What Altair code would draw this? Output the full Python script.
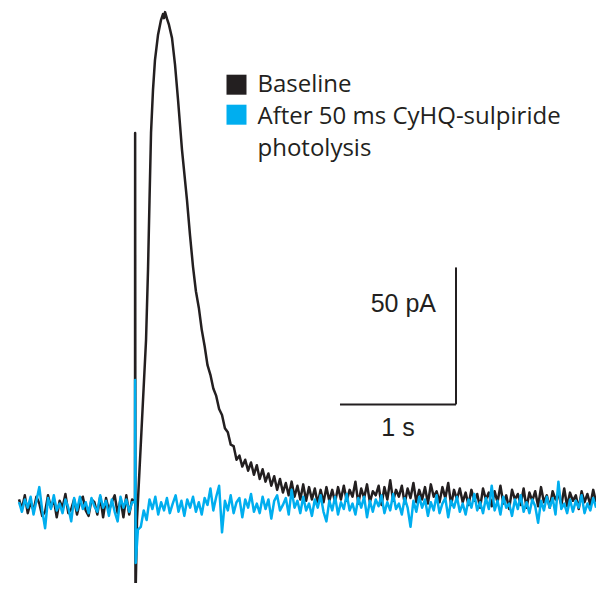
import altair as alt
import pandas as pd

# ---------------- data ----------------
# time in s relative to the photolysis flash, current in pA (inward up)
STEP = 0.025
BASE_NAME = "Baseline"
AFTER_NAME = "After 50 ms CyHQ-sulpiride photolysis"
legend_names = [BASE_NAME, AFTER_NAME]
legend_texts = ["Baseline", "After 50 ms CyHQ-sulpiride\nphotolysis"]

baseline_pre_start = -1.0
baseline_pre = [2.0, -1.5, 3.5, -3.0, 1.0, -2.0, 3.0, 0.5, -4.0, -2.5,
                3.5, -1.0, 2.0, -4.5, 1.5, -1.0, 4.0, -3.0, -1.5, 2.0,
                -3.5, 1.0, 3.0, -2.0, -4.0, 2.0, 1.0, -3.5, 3.0, -4.5,
                2.5, -2.0, 1.0, 3.5, -3.0, 2.0, -4.5, 3.5, -3.5, 2.0]

baseline_flash_t = [0.0, 0.001, 0.004, 0.017, 0.043, 0.069, 0.095, 0.112, 0.125,
                    0.138, 0.155, 0.172, 0.198, 0.224, 0.241, 0.25, 0.259, 0.276,
                    0.293, 0.319, 0.345, 0.371, 0.405, 0.448, 0.474, 0.5]
baseline_flash_i = [1.0, 135.8, -35.0, -5.5, 16.4, 38.3, 60.2, 85.8, 111.3,
                    135.8, 151.5, 162.4, 171.5, 177.0, 179.2, 177.7, 179.9, 177.4,
                    175.2, 170.4, 160.6, 147.8, 129.6, 111.3, 98.5, 86.9]

baseline_decay_start = 0.525
baseline_decay = [78.0, 72.0, 64.0, 58.0, 51.0, 47.5, 42.5, 39.8, 35.0, 32.8,
                  28.0, 26.5, 22.0, 21.5, 16.5, 18.0, 14.0, 16.5, 12.5, 15.5,
                  11.0, 14.5, 9.5, 13.0, 8.5, 11.5, 7.0, 10.5, 5.5, 9.5,
                  4.5, 8.0, 3.5, 8.5, 3.0, 7.0, 2.0, 7.5, 1.5, 6.5,
                  2.0, 6.0, 0.5, 5.5, 1.0, 6.5, 1.5, 5.5]

baseline_tail_start = 1.725
baseline_tail = [1.0, 6.5, 2.0, 7.0, 1.5, 5.5, 3.0, 8.5, 0.5, 6.0,
                 2.5, 7.5, 1.0, 5.0, 3.5, 7.0, 0.0, 6.5, 2.0, 9.0,
                 1.5, 5.5, 3.0, 7.0, 0.5, 6.0, 2.5, 8.0, 1.0, 5.5,
                 2.0, 6.5, 0.5, 7.5, 3.0, 5.0, 1.0, 6.5, 2.5, 8.0,
                 0.0, 5.5, 2.0, 6.0, 1.0, 4.5, 0.0, 5.5, 1.5, 4.0,
                 -1.0, 6.0, 2.0, 4.5, -0.5, 5.0, 1.0, 7.0, 0.5, 3.5,
                 -1.5, 5.5, 2.0, 4.0, 0.0, 6.0, -1.0, 4.5, 1.5, 5.0,
                 -0.5, 6.5, 1.0, 3.5, -1.0, 5.0, 2.0, 4.0, 0.0, 6.0,
                 -0.5, 4.5, 1.5, 3.5, -1.5, 5.0, 1.0, 4.0, 0.0, 5.5, 1.0]

after_pre_start = -1.0
after_pre = [1.0, -2.5, 2.0, -1.0, 3.0, -3.5, 1.5, 6.5, -2.0, -8.5,
             2.5, -1.5, 3.5, -2.0, 0.5, -3.0, 2.0, -1.0, -6.0, 2.5,
             -2.0, 3.0, -1.5, 1.0, -3.0, 2.5, -0.5, -2.5, 3.5, -1.0,
             1.5, -4.0, 2.0, -2.5, -6.0, 3.0, -1.0, 2.0, -2.5, 1.0]

after_flash_t = [0.0, 0.001, 0.006, 0.025]
after_flash_i = [1.0, 45.6, -21.2, -9.0]

after_post_start = 0.05
after_post = [-8.0, -2.0, -5.5, 2.0, -1.5, 3.0, -3.5, 1.0, -2.0, 2.5,
              -3.0, 0.5, 3.5, -2.5, 1.5, -4.0, 2.0, -1.0, 3.0, -2.5,
              1.0, -3.5, 2.5, 0.0, 6.0, -2.0, 3.0, 7.0, -10.0, 1.5,
              -2.0, 3.5, -3.0, 1.0, 2.5, -4.5, 2.0, -1.0, 4.0, -2.5,
              0.5, -3.0, 3.0, -1.5, 2.0, -5.0, 1.5, 3.5, -2.0, 0.0,
              2.5, -3.5, 5.5, -1.0, 1.5, -3.0, 3.0, -2.0, 0.5, -4.0,
              2.0, -1.0, 3.5, -2.5, -6.0, 1.5, -2.0, 3.0, -3.5, 1.0,
              -1.5, 4.0, -2.0, 0.5, -3.5, 2.5, -1.0, 3.0, -4.5, 1.5,
              -2.5, 2.0, -0.5, 3.5, -3.0, 1.0, -2.0, 4.0, -1.5, 0.5,
              -3.5, 2.5, -1.0, -8.0, 1.5, -2.5, 3.0, -1.0, 2.0, -4.0,
              1.0, -2.0, 3.5, -3.0, 0.5, 2.5, -4.5, 1.5, -1.0, 3.0,
              -2.5, 0.5, -3.5, 2.0, -1.0, 4.0, -2.0, 1.0, -3.0, 2.5,
              -1.5, 7.0, -2.0, 1.5, -3.5, 3.0, -1.0, 0.5, -4.0, 2.0,
              -1.5, 3.5, -2.5, 1.0, -3.0, 2.0, -0.5, -6.5, 1.5, -2.0,
              3.0, -1.0, 2.5, -3.5, 8.5, -1.5, 0.5, -3.0, 2.0, -2.5,
              1.5, -1.0, 3.5, -3.0, 0.5, -2.0, 2.5, -1.0]

# scale bar: 1 s by 50 pA
scalebar_t = [1.767, 2.767]
scalebar_i = [36.7, 86.7]
scalebar_labels = ["1 s", "50 pA"]

X_DOMAIN = [-1.095, 3.974]
Y_DOMAIN = [-28.5, 181.4]

BLACK = "#231f20"
BLUE = "#00aeef"


def grid(start, values):
    return [(round(start + STEP * k, 4), v) for k, v in enumerate(values)]


def pairs(ts, vs):
    return list(zip(ts, vs))


def frame(name, parts):
    rows = []
    for part in parts:
        for t, v in part:
            rows.append({"t": t, "i": v, "trace": name, "idx": len(rows)})
    return pd.DataFrame(rows)


base_df = frame(BASE_NAME, [grid(baseline_pre_start, baseline_pre),
                            pairs(baseline_flash_t, baseline_flash_i),
                            grid(baseline_decay_start, baseline_decay),
                            grid(baseline_tail_start, baseline_tail)])
after_df = frame(AFTER_NAME, [grid(after_pre_start, after_pre),
                              pairs(after_flash_t, after_flash_i),
                              grid(after_post_start, after_post)])

xs = alt.Scale(domain=X_DOMAIN, nice=False, zero=False)
ys = alt.Scale(domain=Y_DOMAIN, nice=False, zero=False)
color_scale = alt.Scale(domain=legend_names, range=[BLACK, BLUE])
color = alt.Color("trace:N", scale=color_scale, legend=None)


def trace(df):
    return alt.Chart(df).mark_line(strokeWidth=2.5, clip=True, strokeJoin="round").encode(
        x=alt.X("t:Q", scale=xs, axis=None),
        y=alt.Y("i:Q", scale=ys, axis=None),
        color=color,
        order=alt.Order("idx:Q"),
    )


# legend (drawn as marks: squares through the same colour scale + labels)
LEG_X, LEG_Y0, LEG_ROW = 228.5, 76.7, 30
legend_layers = []
for k, (name, txt) in enumerate(zip(legend_names, legend_texts)):
    ldf = pd.DataFrame({"trace": [name], "label": [txt]})
    legend_layers.append(
        alt.Chart(ldf).mark_square(size=400, opacity=1, filled=True).encode(
            x=alt.value(LEG_X), y=alt.value(LEG_Y0 + LEG_ROW * k), color=color))
    legend_layers.append(
        alt.Chart(ldf).mark_text(font="Open Sans", fontSize=24, color=BLACK,
                                 align="left", baseline="alphabetic",
                                 lineBreak="\n", lineHeight=32).encode(
            x=alt.value(LEG_X + 21), y=alt.value(LEG_Y0 + 7.6 + (LEG_ROW + 2) * k),
            text="label:N"))

bar_h = alt.Chart(pd.DataFrame({"t0": [scalebar_t[0]], "t1": [scalebar_t[1]],
                                "i0": [scalebar_i[0]]})).mark_rule(
    color=BLACK, strokeWidth=2).encode(
    x=alt.X("t0:Q", scale=xs, axis=None), x2="t1:Q",
    y=alt.Y("i0:Q", scale=ys, axis=None))

bar_v = alt.Chart(pd.DataFrame({"t1": [scalebar_t[1]], "i0": [scalebar_i[0]],
                                "i1": [scalebar_i[1]]})).mark_rule(
    color=BLACK, strokeWidth=2).encode(
    x=alt.X("t1:Q", scale=xs, axis=None),
    y=alt.Y("i0:Q", scale=ys, axis=None), y2="i1:Q")

lab_s = alt.Chart(pd.DataFrame({"t": [(scalebar_t[0] + scalebar_t[1]) / 2],
                                "i": [scalebar_i[0]],
                                "txt": [scalebar_labels[0]]})).mark_text(
    font="Liberation Sans", fontSize=25, color=BLACK, align="center",
    baseline="alphabetic", dy=32).encode(
    x=alt.X("t:Q", scale=xs, axis=None), y=alt.Y("i:Q", scale=ys, axis=None),
    text="txt:N")

lab_pa = alt.Chart(pd.DataFrame({"t": [scalebar_t[1]],
                                 "i": [scalebar_i[1]],
                                 "txt": [scalebar_labels[1]]})).mark_text(
    font="Liberation Sans", fontSize=25, color=BLACK, align="right",
    baseline="alphabetic", dx=-20, dy=45).encode(
    x=alt.X("t:Q", scale=xs, axis=None), y=alt.Y("i:Q", scale=ys, axis=None),
    text="txt:N")

chart = alt.layer(trace(base_df), trace(after_df), bar_h, bar_v, lab_s, lab_pa,
                  *legend_layers).properties(
    width=588, height=575, padding=0, background="white"
).configure(
    view=alt.ViewConfig(strokeWidth=0, stroke="transparent"),
)

chart.save("out.html", embed_options={"renderer": "svg", "actions": False})
